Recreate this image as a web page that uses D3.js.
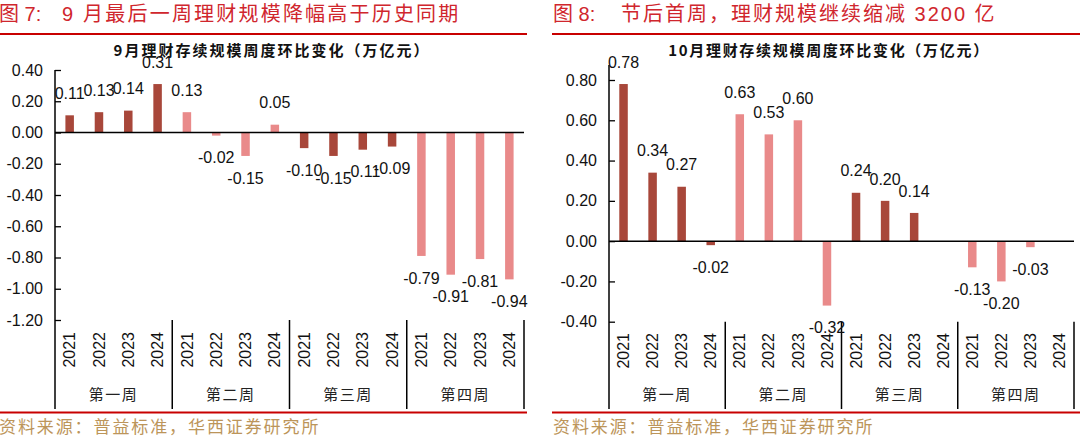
<!DOCTYPE html>
<html><head><meta charset="utf-8">
<script src="https://cdn.jsdelivr.net/npm/d3@7"></script>
<style>
html,body{margin:0;padding:0;background:#fff;}
svg{display:block;}
</style></head>
<body>
<svg id="chart" width="1080" height="438"></svg>
<script>
// ---------------- data ----------------
const years = ["2021", "2022", "2023", "2024"];
const weeks = ["第一周", "第二周", "第三周", "第四周"];

// September weekly change (万亿元), grouped by week, years 2021-2024
const sepValues = [
  0.11, 0.13, 0.14, 0.31,
  0.13, -0.02, -0.15, 0.05,
  -0.10, -0.15, -0.11, -0.09,
  -0.79, -0.91, -0.81, -0.94
];
// October weekly change (万亿元)
const octValues = [
  0.78, 0.34, 0.27, -0.02,
  0.63, 0.53, 0.60, -0.32,
  0.24, 0.20, 0.14, null,
  -0.13, -0.20, -0.03, null
];
const sepTicks = [0.40, 0.20, 0.00, -0.20, -0.40, -0.60, -0.80, -1.00, -1.20];
const octTicks = [0.80, 0.60, 0.40, 0.20, 0.00, -0.20, -0.40];

const figTitles = ["图 7:", "图 8:"];
const figHeadlines = ["9 月最后一周理财规模降幅高于历史同期", "节后首周，理财规模继续缩减 3200 亿"];
const chartTitles = ["9月理财存续规模周度环比变化（万亿元）", "10月理财存续规模周度环比变化（万亿元）"];
const sourceText = "资料来源：普益标准，华西证券研究所";

// ---------------- style ----------------
const DARK = "#A8473A", LIGHT = "#E98A8A";
const RED = "#D0262D", RULE = "#C80000", GOLD = "#BC955A";
const NUM_FONT = "'Liberation Sans', Arial, sans-serif";
const CJK_FONT = "'Noto Sans CJK SC', sans-serif";
const MIX_FONT = "'Liberation Sans', 'Noto Sans CJK SC', sans-serif";

const svg = d3.select("#chart");

function drawPanel(opt) {
  const g = svg.append("g");
  const cats = [];
  weeks.forEach((w, wi) => years.forEach((y, yi) => cats.push({key: wi + "-" + yi, week: wi, year: y})));
  const data = cats.map((c, i) => ({...c, value: opt.values[i]}));

  const x = d3.scaleBand().domain(cats.map(c => c.key)).range([opt.x0, opt.x1]).paddingInner(0).paddingOuter(0);
  const xg = d3.scaleBand().domain(weeks).range([opt.x0, opt.x1]);
  const y = d3.scaleLinear().domain(opt.domain).range([opt.yBottom, opt.yTop]);
  const barW = 8.5;

  // headline
  g.append("text").attr("x", opt.left).attr("y", 21)
    .attr("font-family", MIX_FONT).attr("font-size", 20).attr("fill", RED)
    .text(opt.fig);
  g.append("text").attr("x", opt.left + opt.headOffset).attr("y", 21)
    .attr("font-family", MIX_FONT).attr("font-size", 20).attr("fill", RED)
    .attr("letter-spacing", opt.headSpacing)
    .text(opt.headline);
  g.append("line").attr("x1", opt.ruleX0).attr("x2", opt.ruleX1).attr("y1", 34).attr("y2", 34)
    .attr("stroke", RULE).attr("stroke-width", 2);

  // chart title
  g.append("text").attr("x", opt.titleX).attr("y", 56).attr("text-anchor", "middle")
    .attr("font-family", CJK_FONT).attr("font-size", 15).attr("font-weight", "bold")
    .attr("letter-spacing", opt.titleSpacing).attr("fill", "#111")
    .text(opt.title);

  // y axis
  const axis = d3.axisLeft(y).tickValues(opt.ticks).tickFormat(d => d.toFixed(2))
    .tickSizeInner(-6).tickSizeOuter(0).tickPadding(12);
  const ag = g.append("g").attr("transform", `translate(${opt.x0},0)`).call(axis);
  ag.select(".domain").remove();
  ag.selectAll(".tick line").attr("stroke", "#000").attr("stroke-width", 1.3);
  ag.selectAll(".tick text").attr("font-family", NUM_FONT).attr("font-size", 16).attr("fill", "#111");

  // bars
  g.append("g").selectAll("rect").data(data.filter(d => d.value !== null)).join("rect")
    .attr("x", d => x(d.key) + x.bandwidth() / 2 - barW / 2)
    .attr("width", barW)
    .attr("y", d => Math.min(y(d.value), y(0)))
    .attr("height", d => Math.abs(y(d.value) - y(0)))
    .attr("fill", d => d.week % 2 === 0 ? DARK : LIGHT);

  // zero line
  g.append("line").attr("x1", opt.x0).attr("x2", opt.x1).attr("y1", y(0)).attr("y2", y(0))
    .attr("stroke", "#000").attr("stroke-width", 1.5);

  // axis line & separators
  g.append("line").attr("x1", opt.x0).attr("x2", opt.x0).attr("y1", opt.axisTop).attr("y2", 409)
    .attr("stroke", "#000").attr("stroke-width", 1.5);
  weeks.forEach(w => {
    const sx = xg(w) + xg.bandwidth();
    g.append("line").attr("x1", sx).attr("x2", sx).attr("y1", opt.yBottom).attr("y2", 409)
      .attr("stroke", "#000").attr("stroke-width", 1.5);
  });

  // year labels
  g.append("g").selectAll("text").data(cats).join("text")
    .attr("transform", d => `translate(${x(d.key) + x.bandwidth() / 2},${opt.yearTop}) rotate(-90)`)
    .attr("text-anchor", "end").attr("dy", "0.35em")
    .attr("font-family", NUM_FONT).attr("font-size", 16).attr("fill", "#111")
    .text(d => d.year);

  // week labels
  g.append("g").selectAll("text").data(weeks).join("text")
    .attr("x", d => xg(d) + xg.bandwidth() / 2).attr("y", 400)
    .attr("text-anchor", "middle")
    .attr("font-family", CJK_FONT).attr("font-size", 15).attr("letter-spacing", 1.5).attr("fill", "#222")
    .text(d => d);

  // data labels
  g.append("g").selectAll("text").data(data.filter(d => d.value !== null)).join("text")
    .attr("x", d => x(d.key) + x.bandwidth() / 2)
    .attr("y", d => d.value >= 0 ? y(d.value) - 16.3 : y(d.value) + 27.7)
    .attr("text-anchor", "middle")
    .attr("font-family", NUM_FONT).attr("font-size", 16).attr("fill", "#111")
    .text(d => d.value.toFixed(2));

  // bottom rule & source
  g.append("line").attr("x1", opt.ruleX0).attr("x2", opt.ruleX1).attr("y1", 412.5).attr("y2", 412.5)
    .attr("stroke", RULE).attr("stroke-width", 2);
  g.append("text").attr("x", opt.left).attr("y", 433)
    .attr("font-family", CJK_FONT).attr("font-size", 17).attr("letter-spacing", 1.9).attr("fill", GOLD)
    .text(sourceText);
}

drawPanel({
  values: sepValues, ticks: sepTicks, domain: [-1.2, 0.4],
  x0: 55, x1: 524, yTop: 70, yBottom: 320, axisTop: 70, yearTop: 332,
  left: -1, headOffset: 63, headSpacing: 2.2, titleSpacing: 2.0, ruleX0: 0, ruleX1: 527, titleX: 272,
  fig: figTitles[0], headline: figHeadlines[0], title: chartTitles[0]
});
drawPanel({
  values: octValues, ticks: octTicks, domain: [-0.4, 0.8],
  x0: 609, x1: 1074, yTop: 80, yBottom: 321.7, axisTop: 65, yearTop: 333,
  left: 553, headOffset: 68, headSpacing: 2.0, titleSpacing: 1.7, ruleX0: 552, ruleX1: 1080, titleX: 829,
  fig: figTitles[1], headline: figHeadlines[1], title: chartTitles[1]
});
</script>
</body></html>
